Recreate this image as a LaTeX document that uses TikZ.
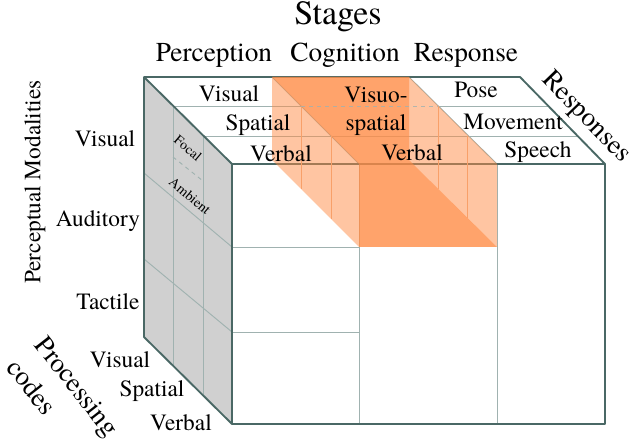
\documentclass[tikz,border=0pt]{standalone}
\usepackage{fontspec}
\newfontfamily\cubefont{TeX Gyre Termes}

\definecolor{edge}{RGB}{74,104,101}
\definecolor{grid}{RGB}{160,178,176}
\definecolor{sideface}{RGB}{208,208,208}
\definecolor{cogorange}{RGB}{255,140,70}
\definecolor{cogline}{RGB}{248,160,105}

\begin{document}
\begin{tikzpicture}[x=0.75pt, y=-0.75pt,
	edgeline/.style={draw=edge, line width=1.4pt, line join=round},
	gridline/.style={draw=grid, line width=0.7pt},
	celltext/.style={inner sep=0pt, font=\cubefont\fontsize{17.5}{20}\selectfont},
	headtext/.style={inner sep=0pt, font=\cubefont\fontsize{20.5}{24}\selectfont},
	smalltext/.style={inner sep=0pt, font=\cubefont\fontsize{10.5}{12}\selectfont, rotate=-40}]
	\useasboundingbox (0,0) rectangle (635,445);
	% faces
	\fill[sideface] (144,77) -- (232,164) -- (232,424) -- (144,337) -- cycle;
	% grid of the cube
	\draw[gridline] (173,106) -- (301,106) (438,106) -- (549,106);
	\draw[gridline] (203,136) -- (579,136);
	\draw[gridline] (173,106) -- (173,366) (203,136) -- (203,395);
	\draw[gridline] (144,173) -- (232,247) (144,259) -- (232,332);
	\draw[gridline, dashed] (173,157) -- (203,181);
	\draw[gridline] (359,164) -- (359,424) (497,164) -- (497,424);
	\draw[gridline] (232,247) -- (359,247) (232,332) -- (359,332);
	\draw[gridline] (272,77) -- (359,164) (409,77) -- (497,164);
	\draw[edgeline] (144,77) -- (520,77) -- (605,164) -- (605,424) -- (232,424) -- (144,337) -- cycle;
	\draw[edgeline] (144,77) -- (232,164) -- (605,164) (232,164) -- (232,424);
	% cognition block
	\fill[cogorange, fill opacity=0.5] (272,77) -- (359,164) -- (359,247) -- (272,160) -- cycle;
	\fill[cogorange, fill opacity=0.5] (409,77) -- (497,164) -- (497,247) -- (409,160) -- cycle;
	\fill[cogorange, fill opacity=0.8] (272,77) -- (409,77) -- (409,160) -- (497,247) -- (359,247) -- (359,164) -- cycle;
	\draw[cogline, line width=0.7pt] (301,106) -- (301,189) (331,136) -- (331,219);
	\draw[cogline, line width=0.7pt] (438,106) -- (438,189) (467,136) -- (467,218);
	\draw[gridline, dashed, draw opacity=0.8] (301,106) -- (438,106);
	% headings
	\node[inner sep=0pt, font=\cubefont\fontsize{25.5}{30}\selectfont] (stages) at (338,17) {Stages};
	\node[headtext] (perception) at (214,55) {Perception};
	\node[headtext] (cognition) at (345,55) {Cognition};
	\node[headtext] (response) at (466,55) {Response};
	\node[headtext, rotate=-46] (responses) at (586,118) {Responses};
	\node[celltext, rotate=90] (modalities) at (35,182) {Perceptual Modalities};
	\node[headtext, rotate=-52] (processing) at (75,388) {Processing};
	\node[headtext, rotate=-52] (codes) at (32,387) {codes};
	% top face
	\node[celltext] (pvisual) at (229,94) {Visual};
	\node[celltext] (pspatial) at (258,125) {Spatial};
	\node[celltext] (pverbal) at (281,154) {Verbal};
	\node[celltext] (cvisuo) at (376,95) {Visuo-};
	\node[celltext] (cspatial) at (376,125) {spatial};
	\node[celltext] (cverbal) at (412,153) {Verbal};
	\node[celltext] (pose) at (476,90) {Pose};
	\node[celltext] (movement) at (513,122) {Movement};
	\node[celltext] (speech) at (538,152) {Speech};
	% left side
	\node[celltext] (mvisual) at (105,139) {Visual};
	\node[celltext] (mauditory) at (98,221) {Auditory};
	\node[celltext] (mtactile) at (108,302) {Tactile};
	\node[smalltext] (focal) at (188,148) {Focal};
	\node[smalltext] (ambient) at (190,196) {Ambient};
	% processing codes
	\node[celltext] (cdvisual) at (120,360) {Visual};
	\node[celltext] (cdspatial) at (152,391) {Spatial};
	\node[celltext] (cdverbal) at (181,423) {Verbal};
\end{tikzpicture}
\end{document}
